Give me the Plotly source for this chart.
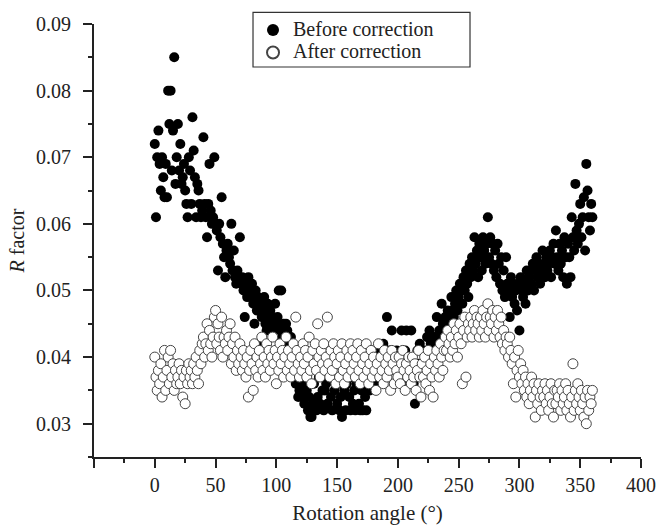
import plotly.graph_objects as go

# Rotation angles (degrees), 0 to 360 in 1-degree steps
angles = list(range(0, 361))

r_before = [
    0.072, 0.061, 0.070, 0.074, 0.069, 0.065, 0.070, 0.067, 0.064, 0.069,
    0.064, 0.080, 0.075, 0.080, 0.068, 0.074, 0.085, 0.066, 0.070, 0.075,
    0.068, 0.072, 0.066, 0.067, 0.069, 0.065, 0.063, 0.061, 0.070, 0.068,
    0.063, 0.076, 0.071, 0.067, 0.061, 0.066, 0.065, 0.063, 0.061, 0.062,
    0.073, 0.063, 0.061, 0.058, 0.063, 0.069, 0.062, 0.060, 0.061, 0.070,
    0.060, 0.059, 0.053, 0.060, 0.058, 0.064, 0.057, 0.055, 0.052, 0.056,
    0.057, 0.055, 0.054, 0.060, 0.053, 0.056, 0.052, 0.051, 0.053, 0.052,
    0.058, 0.051, 0.052, 0.050, 0.046, 0.051, 0.049, 0.052, 0.050, 0.049,
    0.051, 0.048, 0.045, 0.050, 0.047, 0.049, 0.042, 0.048, 0.046, 0.047,
    0.049, 0.045, 0.044, 0.048, 0.046, 0.047, 0.045, 0.046, 0.044, 0.048,
    0.045, 0.046, 0.050, 0.044, 0.050, 0.043, 0.045, 0.042, 0.045, 0.044,
    0.041, 0.040, 0.043, 0.039, 0.038, 0.041, 0.036, 0.038, 0.034, 0.035,
    0.037, 0.034, 0.036, 0.033, 0.038, 0.035, 0.032, 0.034, 0.031, 0.031,
    0.033, 0.036, 0.039, 0.032, 0.034, 0.037, 0.033, 0.038, 0.035, 0.032,
    0.035, 0.036, 0.033, 0.038, 0.040, 0.034, 0.032, 0.037, 0.035, 0.041,
    0.033, 0.036, 0.032, 0.034, 0.031, 0.038, 0.035, 0.032, 0.036, 0.039,
    0.034, 0.032, 0.037, 0.033, 0.035, 0.032, 0.036, 0.038, 0.033, 0.032,
    0.035, 0.032, 0.037, 0.034, 0.032, 0.036, 0.039, 0.035, 0.038, 0.040,
    0.037, 0.039, 0.036, 0.041, 0.038, 0.040, 0.037, 0.039, 0.042, 0.038,
    0.040, 0.046, 0.039, 0.041, 0.038, 0.044, 0.040, 0.036, 0.039, 0.041,
    0.037, 0.040, 0.038, 0.044, 0.036, 0.039, 0.041, 0.044, 0.038, 0.040,
    0.037, 0.044, 0.039, 0.036, 0.033, 0.038, 0.041, 0.039, 0.042, 0.037,
    0.039, 0.038, 0.041, 0.040, 0.043, 0.039, 0.044, 0.042, 0.041, 0.040,
    0.043, 0.041, 0.046, 0.042, 0.044, 0.043, 0.048, 0.045, 0.043, 0.046,
    0.044, 0.047, 0.045, 0.046, 0.049, 0.047, 0.046, 0.048, 0.050, 0.047,
    0.049, 0.051, 0.050, 0.048, 0.052, 0.050, 0.053, 0.051, 0.049, 0.054,
    0.052, 0.055, 0.053, 0.058, 0.054, 0.056, 0.052, 0.057, 0.055, 0.053,
    0.058, 0.056, 0.054, 0.057, 0.061, 0.055, 0.058, 0.054, 0.057, 0.053,
    0.056, 0.052, 0.057, 0.054, 0.051, 0.055, 0.050, 0.053, 0.049, 0.055,
    0.051, 0.050, 0.046, 0.052, 0.049, 0.051, 0.048, 0.050, 0.047, 0.051,
    0.044, 0.052, 0.050, 0.049, 0.051, 0.048, 0.053, 0.050, 0.052, 0.053,
    0.051, 0.054, 0.050, 0.053, 0.055, 0.052, 0.054, 0.051, 0.053, 0.056,
    0.054, 0.052, 0.055, 0.053, 0.054, 0.056, 0.052, 0.055, 0.057, 0.054,
    0.059, 0.055, 0.053, 0.057, 0.054, 0.056, 0.052, 0.058, 0.055, 0.051,
    0.057, 0.055, 0.052, 0.061, 0.058, 0.056, 0.066, 0.059, 0.057, 0.060,
    0.063, 0.058, 0.061, 0.064, 0.056, 0.069, 0.065, 0.061, 0.059, 0.063,
    0.061,
]

r_after = [
    0.040, 0.037, 0.035, 0.038, 0.036, 0.039, 0.034, 0.037, 0.041, 0.035,
    0.038, 0.040, 0.036, 0.041, 0.037, 0.039, 0.035, 0.038, 0.036, 0.037,
    0.039, 0.036, 0.038, 0.034, 0.037, 0.033, 0.038, 0.036, 0.039, 0.037,
    0.038, 0.036, 0.039, 0.037, 0.040, 0.038, 0.036, 0.041, 0.039, 0.042,
    0.043, 0.040, 0.042, 0.045, 0.041, 0.044, 0.042, 0.040, 0.043, 0.046,
    0.047, 0.042, 0.045, 0.043, 0.041, 0.046, 0.040, 0.043, 0.042, 0.044,
    0.041, 0.043, 0.045, 0.039, 0.042, 0.040, 0.043, 0.038, 0.041, 0.039,
    0.042, 0.040, 0.038, 0.041, 0.039, 0.037, 0.040, 0.034, 0.038, 0.041,
    0.039, 0.035, 0.042, 0.038, 0.040, 0.037, 0.041, 0.039, 0.043, 0.038,
    0.040, 0.037, 0.042, 0.039, 0.041, 0.038, 0.040, 0.043, 0.039, 0.041,
    0.036, 0.040, 0.038, 0.042, 0.039, 0.041, 0.037, 0.040, 0.043, 0.038,
    0.041, 0.039, 0.037, 0.040, 0.042, 0.038, 0.046, 0.041, 0.039, 0.037,
    0.040, 0.038, 0.042, 0.039, 0.041, 0.037, 0.040, 0.043, 0.038, 0.036,
    0.041, 0.039, 0.042, 0.038, 0.045, 0.040, 0.037, 0.041, 0.039, 0.042,
    0.038, 0.040, 0.046, 0.039, 0.037, 0.041, 0.038, 0.042, 0.040, 0.036,
    0.039, 0.041, 0.037, 0.040, 0.042, 0.038, 0.036, 0.039, 0.041, 0.037,
    0.040, 0.042, 0.038, 0.041, 0.039, 0.037, 0.040, 0.042, 0.038, 0.036,
    0.041, 0.039, 0.037, 0.040, 0.042, 0.038, 0.036, 0.039, 0.041, 0.037,
    0.040, 0.038, 0.035, 0.039, 0.042, 0.037, 0.040, 0.038, 0.036, 0.041,
    0.039, 0.037, 0.040, 0.038, 0.035, 0.041, 0.039, 0.036, 0.040, 0.038,
    0.037, 0.040, 0.036, 0.039, 0.041, 0.038, 0.035, 0.039, 0.037, 0.040,
    0.038, 0.036, 0.040, 0.037, 0.039, 0.035, 0.038, 0.041, 0.037, 0.034,
    0.039, 0.037, 0.040, 0.036, 0.038, 0.041, 0.035, 0.039, 0.037, 0.034,
    0.040, 0.038, 0.041, 0.039, 0.037, 0.042, 0.040, 0.038, 0.041, 0.043,
    0.041, 0.044, 0.042, 0.040, 0.043, 0.041, 0.045, 0.042, 0.044, 0.040,
    0.043, 0.045, 0.042, 0.036, 0.044, 0.046, 0.037, 0.043, 0.045, 0.044,
    0.046, 0.043, 0.045, 0.047, 0.044, 0.046, 0.045, 0.043, 0.046, 0.044,
    0.047, 0.045, 0.043, 0.046, 0.048, 0.044, 0.046, 0.045, 0.047, 0.043,
    0.046, 0.044, 0.047, 0.045, 0.043, 0.046, 0.042, 0.044, 0.041, 0.043,
    0.042, 0.040, 0.043, 0.041, 0.039, 0.036, 0.040, 0.034, 0.038, 0.041,
    0.037, 0.039, 0.036, 0.038, 0.035, 0.037, 0.034, 0.036, 0.033, 0.035,
    0.037, 0.034, 0.036, 0.031, 0.035, 0.033, 0.036, 0.034, 0.032, 0.035,
    0.034, 0.036, 0.033, 0.035, 0.032, 0.034, 0.036, 0.033, 0.031, 0.035,
    0.033, 0.035, 0.034, 0.036, 0.032, 0.035, 0.033, 0.034, 0.036, 0.032,
    0.035, 0.033, 0.031, 0.034, 0.039, 0.032, 0.035, 0.033, 0.036, 0.034,
    0.032, 0.035, 0.033, 0.031, 0.034, 0.030, 0.035, 0.032, 0.034, 0.033,
    0.035,
]

x_tickvals = [-50, 0, 50, 100, 150, 200, 250, 300, 350, 400]
x_ticktext = ["", "0", "50", "100", "150", "200", "250", "300", "350", "400"]
y_tickvals = [0.03, 0.04, 0.05, 0.06, 0.07, 0.08, 0.09]
y_ticktext = ["0.03", "0.04", "0.05", "0.06", "0.07", "0.08", "0.09"]

FONT = "Liberation Serif, Times New Roman, serif"
AXIS_COLOR = "#222222"
TEXT_COLOR = "#222222"
LEG_SPAN = '<span style="font-size:20px">{}</span>'

fig = go.Figure()
fig.add_trace(go.Scatter(
    x=angles, y=r_before, mode="markers",
    name=LEG_SPAN.format("Before correction"),
    marker=dict(symbol="circle", size=10, color="#000000",
                line=dict(color="#000000", width=0)),
))
fig.add_trace(go.Scatter(
    x=angles, y=r_after, mode="markers",
    name=LEG_SPAN.format("After correction"),
    marker=dict(symbol="circle", size=10, color="#ffffff",
                line=dict(color="#444444", width=1)),
))

# legend frame
fig.add_shape(
    type="rect", xref="paper", yref="paper",
    x0=0.2907, x1=0.6874, y0=0.8764, y1=0.999,
    line=dict(color="#333333", width=1.2), fillcolor="white", layer="above",
)

fig.update_layout(
    width=659, height=525,
    margin=dict(l=94, r=18, t=12, b=68, autoexpand=False),
    paper_bgcolor="white", plot_bgcolor="white",
    font=dict(family=FONT, size=20, color=TEXT_COLOR),
    showlegend=True,
    legend=dict(
        x=0.2907, y=0.996, xanchor="left", yanchor="top",
        bgcolor="rgba(0,0,0,0)", borderwidth=0,
        font=dict(family=FONT, size=15, color=TEXT_COLOR),
        itemsizing="constant", tracegroupgap=0,
    ),
    xaxis=dict(
        automargin=False,
        range=[-50, 400], tickmode="array",
        tickvals=x_tickvals, ticktext=x_ticktext,
        showgrid=False, zeroline=False,
        showline=True, linecolor=AXIS_COLOR, linewidth=2,
        ticks="outside", ticklen=9, tickwidth=1.5, tickcolor=AXIS_COLOR,
        minor=dict(dtick=25, tick0=0, ticks="outside", ticklen=4,
                   tickwidth=1.5, tickcolor=AXIS_COLOR, showgrid=False),
        title=dict(text="Rotation angle (°)", standoff=10,
                   font=dict(family=FONT, size=21)),
        tickfont=dict(family=FONT, size=20),
    ),
    yaxis=dict(
        automargin=False,
        domain=[0, 0.973],
        range=[0.025, 0.09], tickmode="array",
        tickvals=y_tickvals, ticktext=y_ticktext,
        showgrid=False, zeroline=False,
        showline=True, linecolor=AXIS_COLOR, linewidth=2,
        ticks="outside", ticklen=9, tickwidth=1.5, tickcolor=AXIS_COLOR,
        ticklabelstandoff=8,
        minor=dict(dtick=0.005, tick0=0.025, ticks="outside", ticklen=4,
                   tickwidth=1.5, tickcolor=AXIS_COLOR, showgrid=False),
        title=dict(text="<i>R</i> factor", standoff=6,
                   font=dict(family=FONT, size=20)),
        tickfont=dict(family=FONT, size=20),
    ),
)

fig.write_html(
    "out.html",
    config={"displayModeBar": False},
    post_script="document.body.style.margin='0';document.body.style.overflow='hidden';",
)
